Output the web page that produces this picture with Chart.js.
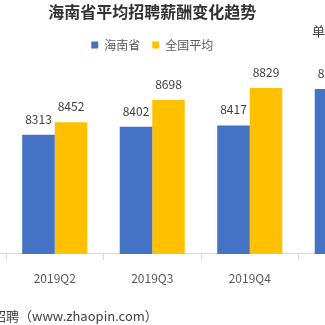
<!DOCTYPE html>
<html><head><meta charset="utf-8">
<script src="https://cdn.jsdelivr.net/npm/chart.js@4.4.1/dist/chart.umd.min.js"></script>
<style>
html,body{margin:0;padding:0;width:325px;height:325px;overflow:hidden;background:#fff;}
#wrap{position:absolute;left:-100px;top:0;width:514px;height:325px;}
.note{position:absolute;font-family:"Noto Sans CJK SC","Noto Sans",sans-serif;color:#404040;white-space:nowrap;line-height:1;}
</style></head><body>
<div id="wrap"><canvas id="c" width="514" height="325" style="width:514px;height:325px"></canvas></div>
<div class="note" style="left:312px;top:24px;font-size:13px;">单位：元</div>
<div class="note" style="left:-7px;top:309px;font-size:13px;">招聘（www.zhaopin.com）</div>
<script>
const categories = ['2019Q1', '2019Q2', '2019Q3', '2019Q4', '2020Q1'];
const hainanValues = [null, 8313, 8402, 8417, 8818];
const nationalValues = [null, 8452, 8698, 8829, null];
const seriesNames = ['海南省', '全国平均'];
const titleText = '海南省平均招聘薪酬变化趋势';

const FONT = '"Noto Sans CJK SC", "Noto Sans", sans-serif';

const valueLabels = {
  id: 'valueLabels',
  afterDatasetsDraw(chart) {
    const ctx = chart.ctx;
    ctx.save();
    ctx.font = '12px ' + FONT;
    ctx.fillStyle = '#404040';
    ctx.textAlign = 'center';
    ctx.textBaseline = 'alphabetic';
    chart.data.datasets.forEach((ds, i) => {
      const meta = chart.getDatasetMeta(i);
      meta.data.forEach((bar, j) => {
        const v = ds.data[j];
        if (v == null) return;
        ctx.fillText(String(v), bar.x, bar.y - 11);
      });
    });
    ctx.restore();
  }
};

const legendMargin = {
  id: 'legendMargin',
  beforeInit(chart) {
    const fit = chart.legend.fit;
    chart.legend.fit = function () {
      fit.bind(chart.legend)();
      this.height += 11.5;
    };
  }
};

new Chart(document.getElementById('c'), {
  type: 'bar',
  data: {
    labels: categories,
    datasets: [
      { label: seriesNames[0], data: hainanValues, backgroundColor: '#4472C4', borderWidth: 0 },
      { label: seriesNames[1], data: nationalValues, backgroundColor: '#FFC000', borderWidth: 0 }
    ]
  },
  options: {
    responsive: false,
    animation: false,
    categoryPercentage: 0.667,
    barPercentage: 1,
    layout: { padding: { left: 8.5, right: 18, top: 0, bottom: 28.7 } },
    plugins: {
      title: {
        display: true, text: titleText, color: '#333333',
        font: { size: 16, weight: 'bold', family: FONT },
        padding: { top: 2, bottom: 5.8 }
      },
      legend: {
        display: true, position: 'top',
        labels: { boxWidth: 7, boxHeight: 7, padding: 12, color: '#595959', font: { size: 12, family: FONT } }
      },
      tooltip: { enabled: false }
    },
    scales: {
      x: {
        offset: true,
        grid: { display: true, drawOnChartArea: false, drawTicks: true, tickLength: 6, color: '#D9D9D9', offset: true },
        border: { display: true, color: '#D9D9D9', width: 1 },
        ticks: { color: '#595959', font: { size: 12, family: FONT }, padding: 11, maxRotation: 0, autoSkip: false }
      },
      y: { display: false, min: 7000, max: 9000 }
    }
  },
  plugins: [valueLabels, legendMargin]
});
</script>
</body></html>
